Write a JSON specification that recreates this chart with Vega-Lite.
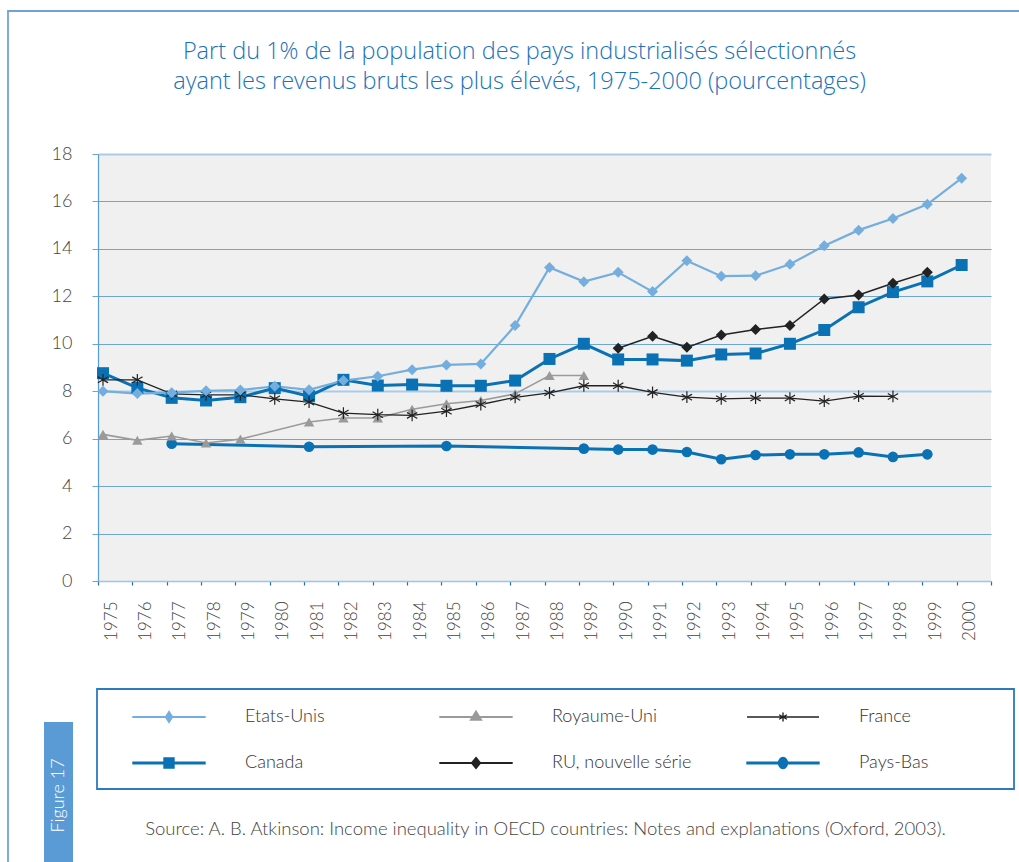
{
  "$schema": "https://vega.github.io/schema/vega-lite/v6.json",
  "width": 893,
  "height": 427,
  "autosize": {"type": "none"},
  "padding": {"left": 98, "top": 154, "right": 28, "bottom": 281},
  "background": "white",
  "config": {"font": "Lato", "view": {"fill": "#f0f0f0", "stroke": null}, "legend": {"strokeWidth": 1.8}},
  "title": {
    "text": ["Part du 1% de la population des pays industrialisés sélectionnés", "ayant les revenus bruts les plus élevés, 1975-2000 (pourcentages)"],
    "fontSize": 23.5, "fontWeight": 300, "font": "Open Sans", "color": "#1a72b8",
    "lineHeight": 30, "anchor": "middle", "dx": -25, "offset": 52, "dy": 135
  },
  "data": {"values": [
    {"series": "Canada", "year": 1975, "value": 8.76}, {"series": "Canada", "year": 1976, "value": 8.14}, {"series": "Canada", "year": 1977, "value": 7.72}, {"series": "Canada", "year": 1978, "value": 7.61}, {"series": "Canada", "year": 1979, "value": 7.75}, {"series": "Canada", "year": 1980, "value": 8.13}, {"series": "Canada", "year": 1981, "value": 7.79}, {"series": "Canada", "year": 1982, "value": 8.48}, {"series": "Canada", "year": 1983, "value": 8.24}, {"series": "Canada", "year": 1984, "value": 8.28}, {"series": "Canada", "year": 1985, "value": 8.23}, {"series": "Canada", "year": 1986, "value": 8.23}, {"series": "Canada", "year": 1987, "value": 8.45}, {"series": "Canada", "year": 1988, "value": 9.36}, {"series": "Canada", "year": 1989, "value": 10.0}, {"series": "Canada", "year": 1990, "value": 9.34}, {"series": "Canada", "year": 1991, "value": 9.34}, {"series": "Canada", "year": 1992, "value": 9.29}, {"series": "Canada", "year": 1993, "value": 9.55}, {"series": "Canada", "year": 1994, "value": 9.59}, {"series": "Canada", "year": 1995, "value": 10.0}, {"series": "Canada", "year": 1996, "value": 10.58}, {"series": "Canada", "year": 1997, "value": 11.54}, {"series": "Canada", "year": 1998, "value": 12.18}, {"series": "Canada", "year": 1999, "value": 12.63}, {"series": "Canada", "year": 2000, "value": 13.32},
    {"series": "Pays-Bas", "year": 1977, "value": 5.79}, {"series": "Pays-Bas", "year": 1981, "value": 5.66}, {"series": "Pays-Bas", "year": 1985, "value": 5.69}, {"series": "Pays-Bas", "year": 1989, "value": 5.58}, {"series": "Pays-Bas", "year": 1990, "value": 5.54}, {"series": "Pays-Bas", "year": 1991, "value": 5.54}, {"series": "Pays-Bas", "year": 1992, "value": 5.44}, {"series": "Pays-Bas", "year": 1993, "value": 5.13}, {"series": "Pays-Bas", "year": 1994, "value": 5.31}, {"series": "Pays-Bas", "year": 1995, "value": 5.34}, {"series": "Pays-Bas", "year": 1996, "value": 5.34}, {"series": "Pays-Bas", "year": 1997, "value": 5.42}, {"series": "Pays-Bas", "year": 1998, "value": 5.23}, {"series": "Pays-Bas", "year": 1999, "value": 5.34},
    {"series": "Royaume-Uni", "year": 1975, "value": 6.18}, {"series": "Royaume-Uni", "year": 1976, "value": 5.93}, {"series": "Royaume-Uni", "year": 1977, "value": 6.11}, {"series": "Royaume-Uni", "year": 1978, "value": 5.82}, {"series": "Royaume-Uni", "year": 1979, "value": 5.98}, {"series": "Royaume-Uni", "year": 1981, "value": 6.7}, {"series": "Royaume-Uni", "year": 1982, "value": 6.87}, {"series": "Royaume-Uni", "year": 1983, "value": 6.87}, {"series": "Royaume-Uni", "year": 1984, "value": 7.24}, {"series": "Royaume-Uni", "year": 1985, "value": 7.47}, {"series": "Royaume-Uni", "year": 1986, "value": 7.61}, {"series": "Royaume-Uni", "year": 1987, "value": 7.89}, {"series": "Royaume-Uni", "year": 1988, "value": 8.66}, {"series": "Royaume-Uni", "year": 1989, "value": 8.66},
    {"series": "France", "year": 1975, "value": 8.48}, {"series": "France", "year": 1976, "value": 8.48}, {"series": "France", "year": 1977, "value": 7.89}, {"series": "France", "year": 1978, "value": 7.85}, {"series": "France", "year": 1979, "value": 7.85}, {"series": "France", "year": 1980, "value": 7.68}, {"series": "France", "year": 1981, "value": 7.54}, {"series": "France", "year": 1982, "value": 7.08}, {"series": "France", "year": 1983, "value": 7.01}, {"series": "France", "year": 1984, "value": 6.98}, {"series": "France", "year": 1985, "value": 7.16}, {"series": "France", "year": 1986, "value": 7.44}, {"series": "France", "year": 1987, "value": 7.74}, {"series": "France", "year": 1988, "value": 7.93}, {"series": "France", "year": 1989, "value": 8.23}, {"series": "France", "year": 1990, "value": 8.23}, {"series": "France", "year": 1991, "value": 7.95}, {"series": "France", "year": 1992, "value": 7.75}, {"series": "France", "year": 1993, "value": 7.68}, {"series": "France", "year": 1994, "value": 7.71}, {"series": "France", "year": 1995, "value": 7.71}, {"series": "France", "year": 1996, "value": 7.58}, {"series": "France", "year": 1997, "value": 7.79}, {"series": "France", "year": 1998, "value": 7.78},
    {"series": "RU, nouvelle série", "year": 1990, "value": 9.81}, {"series": "RU, nouvelle série", "year": 1991, "value": 10.32}, {"series": "RU, nouvelle série", "year": 1992, "value": 9.85}, {"series": "RU, nouvelle série", "year": 1993, "value": 10.37}, {"series": "RU, nouvelle série", "year": 1994, "value": 10.6}, {"series": "RU, nouvelle série", "year": 1995, "value": 10.77}, {"series": "RU, nouvelle série", "year": 1996, "value": 11.89}, {"series": "RU, nouvelle série", "year": 1997, "value": 12.06}, {"series": "RU, nouvelle série", "year": 1998, "value": 12.55}, {"series": "RU, nouvelle série", "year": 1999, "value": 13.01},
    {"series": "Etats-Unis", "year": 1975, "value": 8.0}, {"series": "Etats-Unis", "year": 1976, "value": 7.9}, {"series": "Etats-Unis", "year": 1977, "value": 7.94}, {"series": "Etats-Unis", "year": 1978, "value": 8.02}, {"series": "Etats-Unis", "year": 1979, "value": 8.05}, {"series": "Etats-Unis", "year": 1980, "value": 8.21}, {"series": "Etats-Unis", "year": 1981, "value": 8.06}, {"series": "Etats-Unis", "year": 1982, "value": 8.45}, {"series": "Etats-Unis", "year": 1983, "value": 8.63}, {"series": "Etats-Unis", "year": 1984, "value": 8.91}, {"series": "Etats-Unis", "year": 1985, "value": 9.11}, {"series": "Etats-Unis", "year": 1986, "value": 9.15}, {"series": "Etats-Unis", "year": 1987, "value": 10.77}, {"series": "Etats-Unis", "year": 1988, "value": 13.22}, {"series": "Etats-Unis", "year": 1989, "value": 12.62}, {"series": "Etats-Unis", "year": 1990, "value": 13.01}, {"series": "Etats-Unis", "year": 1991, "value": 12.2}, {"series": "Etats-Unis", "year": 1992, "value": 13.5}, {"series": "Etats-Unis", "year": 1993, "value": 12.85}, {"series": "Etats-Unis", "year": 1994, "value": 12.87}, {"series": "Etats-Unis", "year": 1995, "value": 13.35}, {"series": "Etats-Unis", "year": 1996, "value": 14.13}, {"series": "Etats-Unis", "year": 1997, "value": 14.79}, {"series": "Etats-Unis", "year": 1998, "value": 15.28}, {"series": "Etats-Unis", "year": 1999, "value": 15.88}, {"series": "Etats-Unis", "year": 2000, "value": 16.98}
  ]},
  "encoding": {
    "x": {
      "field": "year", "type": "quantitative",
      "scale": {"domain": [1975, 2001], "nice": false, "zero": false},
      "axis": {
        "values": [1975, 1976, 1977, 1978, 1979, 1980, 1981, 1982, 1983, 1984, 1985, 1986, 1987, 1988, 1989, 1990, 1991, 1992, 1993, 1994, 1995, 1996, 1997, 1998, 1999, 2000, 2001],
        "format": "d", "labelExpr": "datum.value > 2000 ? '' : datum.label",
        "labelAngle": -90, "labelAlign": "right", "labelBaseline": "middle",
        "labelOffset": 13, "labelPadding": 16, "labelFontSize": 17, "labelColor": "#444444",
        "labelFont": "Lato", "labelFontWeight": 300, "labelFlush": false, "labelOverlap": false,
        "tickSize": 4, "tickColor": "#1f6db0", "tickWidth": 1.2,
        "domainColor": "#9fc4e6", "domainWidth": 1.5, "grid": false, "zindex": 1,
        "title": "Figure 17", "titleAngle": -90, "titleX": -39.5, "titleY": 214,
        "titleAlign": "center", "titleBaseline": "middle", "titleFontSize": 18, "titleFontWeight": 300,
        "titleColor": "white", "titleFont": "Lato"
      }
    },
    "y": {
      "field": "value", "type": "quantitative",
      "scale": {"domain": [0, 18], "nice": false},
      "axis": {
        "values": [0, 2, 4, 6, 8, 10, 12, 14, 16, 18],
        "labelFontSize": 18, "labelColor": "#444444", "labelFont": "Lato", "labelFontWeight": 300,
        "labelPadding": 20, "tickSize": 6, "tickColor": "#6ea5d3",
        "domainColor": "#5b9bd5", "domainWidth": 1.2,
        "gridColor": {"condition": {"test": "datum.value === 8 || datum.value === 18", "value": "#a9cbe7"}, "value": "#6ea5d3"},
        "gridWidth": {"condition": {"test": "datum.value === 8 || datum.value === 18", "value": 2}, "value": 1},
        "title": "Source: A. B. Atkinson: Income inequality in OECD countries: Notes and explanations (Oxford, 2003).",
        "titleAngle": 0, "titleX": 447, "titleY": 674, "titleAlign": "center", "titleBaseline": "middle",
        "titleFontSize": 18.5, "titleFontWeight": 300, "titleColor": "#444444", "titleFont": "Lato"
      }
    },
    "color": {
      "field": "series", "type": "nominal",
      "scale": {
        "domain": ["Etats-Unis", "Canada", "Royaume-Uni", "RU, nouvelle série", "France", "Pays-Bas"],
        "range": ["#74aedf", "#0a71b4", "#9a9a9a", "#222222", "#222222", "#0a71b4"]
      },
      "legend": {
        "orient": "none", "legendX": -1, "legendY": 535, "title": null,
        "columns": 3, "gridAlign": "all", "columnPadding": 36, "rowPadding": 26,
        "padding": 17, "strokeColor": "#2a7bbf",
        "symbolSize": 400, "labelOffset": 109, "symbolStrokeWidth": 1.4, "symbolOpacity": 1,
        "labelFontSize": 18, "labelColor": "#333333", "labelFont": "Lato", "labelFontWeight": 300, "labelLimit": 320,
        "labelExpr": "datum.label === 'Pays-Bas' || datum.label === 'France' ? datum.label + '\u00a0\u00a0\u00a0\u00a0\u00a0\u00a0\u00a0\u00a0\u00a0\u00a0\u00a0\u00a0\u00a0\u00a0\u200b' : datum.label"
      }
    }
  },
  "layer": [
    {"transform": [{"filter": "datum.series === 'Canada' || datum.series === 'Pays-Bas'"}], "mark": {"type": "line", "strokeWidth": 3, "xOffset": 5}},
    {"transform": [{"filter": "datum.series === 'Royaume-Uni'"}], "mark": {"type": "line", "strokeWidth": 1.6, "xOffset": 5}},
    {"transform": [{"filter": "datum.series === 'France'"}], "mark": {"type": "line", "strokeWidth": 1.3, "xOffset": 5}},
    {"transform": [{"filter": "datum.series === 'RU, nouvelle série'"}], "mark": {"type": "line", "strokeWidth": 1.5, "xOffset": 5}},
    {"transform": [{"filter": "datum.series === 'Etats-Unis'"}], "mark": {"type": "line", "strokeWidth": 2.2, "xOffset": 5}},
    {"transform": [{"filter": "datum.series === 'Canada'"}], "mark": {"type": "point", "filled": true, "opacity": 1, "size": 144, "shape": "square", "xOffset": 5}},
    {"transform": [{"filter": "datum.series === 'Pays-Bas'"}], "mark": {"type": "point", "filled": true, "opacity": 1, "size": 113, "shape": "circle", "xOffset": 5}},
    {"transform": [{"filter": "datum.series === 'Royaume-Uni'"}], "mark": {"type": "point", "filled": true, "opacity": 1, "size": 110, "shape": "triangle-up", "xOffset": 5}},
    {
      "transform": [{"filter": "datum.series === 'France'"}],
      "mark": {"type": "point", "filled": false, "opacity": 1, "size": 140, "strokeWidth": 1.2, "xOffset": 5,
               "shape": "M0,-1V1M-0.87,-0.5L0.87,0.5M-0.87,0.5L0.87,-0.5"},
      "encoding": {
        "strokeDash": {
          "datum": "Figure 17",
          "scale": {"range": [[1, 0]]},
          "legend": {
            "orient": "none", "legendX": -54, "legendY": 568, "title": null,
            "fillColor": "#5b9bd5", "strokeColor": null, "padding": 5,
            "symbolType": "M-1,-1V12", "symbolSize": 400, "symbolOpacity": 0, "symbolStrokeWidth": 0,
            "labelOffset": -1, "labelFontSize": 1, "labelExpr": "''"
          }
        }
      }
    },
    {"transform": [{"filter": "datum.series === 'RU, nouvelle série'"}], "mark": {"type": "point", "filled": true, "opacity": 1, "size": 121, "shape": "diamond", "xOffset": 5}},
    {"transform": [{"filter": "datum.series === 'Etats-Unis'"}], "mark": {"type": "point", "filled": true, "opacity": 1, "size": 121, "shape": "diamond", "xOffset": 5}},
    {
      "mark": {"type": "point", "filled": true, "opacity": 0},
      "encoding": {
        "shape": {
          "field": "series", "type": "nominal", "legend": null,
          "scale": {
            "domain": ["Etats-Unis", "Canada", "Royaume-Uni", "RU, nouvelle série", "France", "Pays-Bas"],
            "range": [
              "M0.8,-0.03H8V0.03H0.8ZM4.4,-0.55L4.75,0L4.4,0.55L4.05,0Z",
              "M0.8,-0.08H8V0.08H0.8ZM3.9,-0.5H4.9V0.5H3.9Z",
              "M0.8,-0.03H8V0.03H0.8ZM4.4,-0.6L4.95,0.3H3.85Z",
              "M0.8,-0.03H8V0.03H0.8ZM4.4,-0.55L4.85,0L4.4,0.55L3.95,0Z",
              "M0.8,0H8M4.4,-0.45V0.45M4.01,-0.225L4.79,0.225M4.01,0.225L4.79,-0.225",
              "M0.8,-0.08H8V0.08H0.8ZM3.95,0A0.45,0.55 0 1,0 4.85,0A0.45,0.55 0 1,0 3.95,0Z"
            ]
          }
        },
        "size": {
          "datum": "cadre",
          "scale": {"range": [1, 1]},
          "legend": {
            "orient": "none", "legendX": -90, "legendY": -143, "title": null,
            "padding": 510, "strokeColor": "#6fa3d6", "fillColor": null,
            "symbolOpacity": 0, "labelExpr": "''", "labelFontSize": 1
          }
        }
      }
    }
  ]
}
